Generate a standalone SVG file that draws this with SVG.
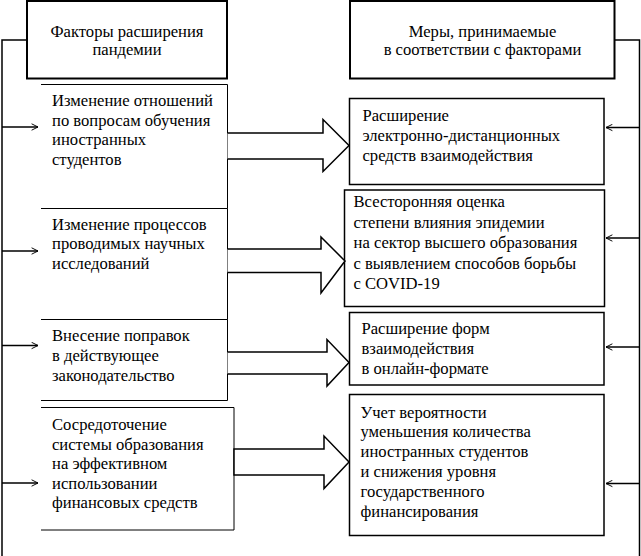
<svg xmlns="http://www.w3.org/2000/svg" width="641" height="556" viewBox="0 0 641 556">
<style>
text{font-family:"Liberation Serif","Times New Roman","DejaVu Serif",serif;font-size:16.6px;fill:#000}
.c{text-anchor:middle}
.hb{fill:#fff;stroke:#000;stroke-width:2}
.lb{fill:#fff;stroke:#000;stroke-width:1}
.rb{fill:#fff;stroke:#000;stroke-width:1.5}
.ln{fill:none;stroke:#000;stroke-width:1.5}
.ba{fill:#fff;stroke:#000;stroke-width:1.5;stroke-linejoin:miter}
</style>
<defs>
<marker id="ah" viewBox="0 0 10 10" refX="9" refY="5" markerWidth="8" markerHeight="8" markerUnits="userSpaceOnUse" orient="auto">
<path d="M1,1 L9,5 L1,9" fill="none" stroke="#000" stroke-width="1.2"/>
</marker>
</defs>
<g id="connectors">
<path class="ln" d="M27,40 H2 V556"/>
<path class="ln" d="M615,40 H639.5 V556"/>
<path class="ln" d="M2,127 H38" marker-end="url(#ah)"/>
<path class="ln" d="M2,251 H38" marker-end="url(#ah)"/>
<path class="ln" d="M2,345.5 H38" marker-end="url(#ah)"/>
<path class="ln" d="M2,483 H38" marker-end="url(#ah)"/>
<path class="ln" d="M639.5,127.5 H606" marker-end="url(#ah)"/>
<path class="ln" d="M639.5,238 H606" marker-end="url(#ah)"/>
<path class="ln" d="M639.5,347 H606" marker-end="url(#ah)"/>
<path class="ln" d="M639.5,483.5 H606" marker-end="url(#ah)"/>
</g>
<g id="header-left">
<rect class="hb" x="27" y="1" width="200" height="77.5"/>
<text class="c" x="127" y="37">Факторы расширения</text>
<text class="c" x="127" y="55">пандемии</text>
</g>
<g id="header-right">
<rect class="hb" x="350" y="1" width="264.5" height="77.5"/>
<text class="c" x="482.5" y="37">Меры, принимаемые</text>
<text class="c" x="482.5" y="55">в соответствии с факторами</text>
</g>
<g id="factor1">
<path class="lb" d="M41,84.5 H227.5 V208.5 H41"/>
<text x="52" y="106">Изменение отношений</text>
<text x="52" y="125.5">по вопросам обучения</text>
<text x="52" y="145">иностранных</text>
<text x="52" y="164.5">студентов</text>
</g>
<g id="factor2">
<path class="lb" d="M41,208.5 H227.5 V319.5 H41"/>
<text x="52" y="229.5">Изменение процессов</text>
<text x="52" y="249">проводимых научных</text>
<text x="52" y="268.5">исследований</text>
</g>
<g id="factor3">
<path class="lb" d="M41,319.5 H227.5 V400.5 H41"/>
<text x="52" y="341">Внесение поправок</text>
<text x="52" y="361">в действующее</text>
<text x="52" y="381">законодательство</text>
</g>
<g id="factor4">
<path class="lb" d="M41,407.5 H234 V530 H41"/>
<text x="52" y="430">Сосредоточение</text>
<text x="52" y="449.5">системы образования</text>
<text x="52" y="469">на эффективном</text>
<text x="52" y="488.5">использовании</text>
<text x="52" y="508">финансовых средств</text>
</g>
<g id="measure1">
<rect class="rb" x="349.5" y="98.5" width="254.5" height="86"/>
<text x="362.5" y="120.5">Расширение</text>
<text x="362.5" y="140.5">электронно-дистанционных</text>
<text x="362.5" y="160.5">средств взаимодействия</text>
</g>
<g id="measure2">
<rect class="rb" x="344.5" y="190" width="260" height="116.5"/>
<text x="353.5" y="207">Всесторонняя оценка</text>
<text x="353.5" y="227.5">степени влияния эпидемии</text>
<text x="353.5" y="248">на сектор высшего образования</text>
<text x="353.5" y="268.5">с выявлением способов борьбы</text>
<text x="353.5" y="288.5">с COVID-19</text>
</g>
<g id="measure3">
<rect class="rb" x="349.5" y="312.5" width="254.5" height="72.5"/>
<text x="361.5" y="333.5">Расширение форм</text>
<text x="361.5" y="353.5">взаимодействия</text>
<text x="361.5" y="373.5">в онлайн-формате</text>
</g>
<g id="measure4">
<rect class="rb" x="349.5" y="394.5" width="254.5" height="141"/>
<text x="360.5" y="417.5">Учет вероятности</text>
<text x="360.5" y="437">уменьшения количества</text>
<text x="360.5" y="457">иностранных студентов</text>
<text x="360.5" y="476.5">и снижения уровня</text>
<text x="360.5" y="496.5">государственного</text>
<text x="360.5" y="516.5">финансирования</text>
</g>
<g id="block-arrows">
<path class="ba" d="M227.5,133 H323 V119.5 L349,145.5 L323,171.5 V159 H227.5"/>
<path class="ba" d="M227.5,249 H321 V237 L345,261 L321,293 V272.5 H227.5"/>
<path class="ba" d="M227.5,352 H327 V339.5 L349,362.5 L327,386 V374 H227.5"/>
<path class="ba" d="M234,449 H324 V436 L349,462 L324,488.5 V475 H234 Z"/>
</g>
</svg>
